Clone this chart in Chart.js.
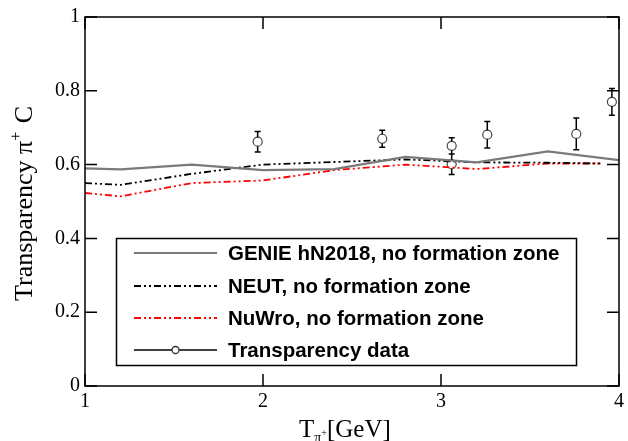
<!DOCTYPE html>
<html>
<head>
<meta charset="utf-8">
<script src="https://cdn.jsdelivr.net/npm/chart.js@4.4.1/dist/chart.umd.min.js"></script>
<style>
html, body { margin: 0; padding: 0; background: #fff; }
</style>
</head>
<body>
<canvas id="myChart" width="628" height="441"></canvas>
<script>
// model curves
const genieX = [1, 1.2, 1.6, 2.0, 2.4, 2.8, 3.2, 3.6, 4.0];
const genieY = [0.590, 0.587, 0.600, 0.585, 0.588, 0.621, 0.606, 0.636, 0.612];
const modelX = [1, 1.2, 1.6, 2.0, 2.4, 2.8, 3.2, 3.6, 3.9];
const neutY = [0.550, 0.545, 0.575, 0.600, 0.607, 0.614, 0.606, 0.605, 0.603];
const nuwroY = [0.523, 0.514, 0.550, 0.557, 0.585, 0.600, 0.588, 0.603, 0.603];

// measured transparency
const dataX = [1.97, 2.67, 3.06, 3.06, 3.26, 3.76, 3.96];
const dataY = [0.662, 0.670, 0.651, 0.601, 0.681, 0.683, 0.770];
const dataErr = [0.028, 0.023, 0.022, 0.028, 0.036, 0.043, 0.036];

const xTicks = [1, 2, 3, 4];
const yTicks = [0, 0.2, 0.4, 0.6, 0.8, 1];
const labels = [
  'GENIE hN2018, no formation zone',
  'NEUT, no formation zone',
  'NuWro, no formation zone',
  'Transparency data'
];

const dashDotDot = [7, 3, 2, 3, 2, 3];
const pts = (xs, ys) => xs.map((x, i) => ({x: x, y: ys[i]}));

// frame with inward ticks
const framePlugin = {
  id: 'frame',
  afterDraw(chart) {
    const c = chart.ctx, a = chart.chartArea;
    const sx = chart.scales.x, sy = chart.scales.y;
    c.save();
    c.strokeStyle = '#000';
    c.lineWidth = 1.5;
    c.strokeRect(a.left, a.top, a.right - a.left, a.bottom - a.top);
    c.beginPath();
    xTicks.forEach(v => {
      const px = sx.getPixelForValue(v);
      c.moveTo(px, a.bottom); c.lineTo(px, a.bottom - 12);
      c.moveTo(px, a.top); c.lineTo(px, a.top + 12);
    });
    yTicks.forEach(v => {
      const py = sy.getPixelForValue(v);
      c.moveTo(a.left, py); c.lineTo(a.left + 12, py);
      c.moveTo(a.right, py); c.lineTo(a.right - 12, py);
    });
    c.stroke();
    c.restore();
  }
};

// error bars on the data set
const errPlugin = {
  id: 'errbars',
  afterDatasetsDraw(chart) {
    const c = chart.ctx;
    const sx = chart.scales.x, sy = chart.scales.y;
    c.save();
    c.strokeStyle = '#000';
    c.lineWidth = 1.5;
    c.beginPath();
    dataX.forEach((x, i) => {
      const px = sx.getPixelForValue(x);
      const top = sy.getPixelForValue(dataY[i] + dataErr[i]);
      const bot = sy.getPixelForValue(dataY[i] - dataErr[i]);
      const yc = sy.getPixelForValue(dataY[i]);
      c.moveTo(px, top); c.lineTo(px, yc - 4.5);
      c.moveTo(px, yc + 4.5); c.lineTo(px, bot);
      c.moveTo(px - 3, top); c.lineTo(px + 3, top);
      c.moveTo(px - 3, bot); c.lineTo(px + 3, bot);
    });
    c.stroke();
    c.restore();
  }
};

// legend box inside the plot
const legendPlugin = {
  id: 'boxLegend',
  afterDraw(chart) {
    const c = chart.ctx;
    c.save();
    c.fillStyle = '#fff';
    c.fillRect(116.5, 238.5, 460, 127);
    c.strokeStyle = '#000';
    c.lineWidth = 1.5;
    c.strokeRect(116.5, 238.5, 460, 127);
    const rows = [253, 286, 318, 350];
    chart.data.datasets.forEach((ds, i) => {
      const y = rows[i];
      c.save();
      c.strokeStyle = i === 3 ? '#000' : ds.borderColor;
      c.lineWidth = i === 3 ? 1.3 : ds.borderWidth;
      c.setLineDash(ds.borderDash || []);
      c.beginPath();
      c.moveTo(134, y); c.lineTo(217, y);
      c.stroke();
      if (i === 3) {
        c.setLineDash([]);
        c.fillStyle = '#fff';
        c.strokeStyle = '#333';
        c.beginPath();
        c.arc(175.5, y, 3.5, 0, Math.PI * 2);
        c.fill(); c.stroke();
      }
      c.restore();
      c.fillStyle = '#000';
      c.font = 'bold 20.5px "Liberation Sans", Arial, sans-serif';
      c.textBaseline = 'middle';
      c.fillText(labels[i], 228, y + 1);
    });
    c.restore();
  }
};

// axis titles with sub/superscripts
const titlePlugin = {
  id: 'titles',
  afterDraw(chart) {
    const c = chart.ctx;
    c.save();
    c.fillStyle = '#000';
    c.textBaseline = 'alphabetic';
    // x title
    let x = 299, base = 437;
    c.font = '25px "Liberation Serif", serif';
    c.fillText('T', x, base); x += c.measureText('T').width;
    c.font = '14px "Liberation Serif", serif';
    c.fillText('\u03c0', x, base + 5); x += c.measureText('\u03c0').width;
    c.font = '10px "Liberation Serif", serif';
    c.fillText('+', x, base - 1); x += c.measureText('+').width;
    c.font = '25px "Liberation Serif", serif';
    c.fillText('[GeV]', x, base);
    // y title
    c.translate(32, 301);
    c.rotate(-Math.PI / 2);
    x = 0;
    c.font = '26px "Liberation Serif", serif';
    c.fillText('Transparency \u03c0', x, 0); x += c.measureText('Transparency \u03c0').width;
    c.font = '16px "Liberation Serif", serif';
    c.fillText('+', x, -11); x += c.measureText('+').width + 2;
    c.font = '26px "Liberation Serif", serif';
    c.fillText(' C', x, 0);
    c.restore();
  }
};

const ctx = document.getElementById('myChart').getContext('2d');
const chart = new Chart(ctx, {
  type: 'scatter',
  data: {
    datasets: [
      {
        label: labels[0],
        data: pts(genieX, genieY),
        showLine: true,
        borderColor: '#7a7a7a',
        borderWidth: 2.2,
        pointRadius: 0,
        tension: 0
      },
      {
        label: labels[1],
        data: pts(modelX, neutY),
        showLine: true,
        borderColor: '#000',
        borderWidth: 1.8,
        borderDash: dashDotDot,
        pointRadius: 0
      },
      {
        label: labels[2],
        data: pts(modelX, nuwroY),
        showLine: true,
        borderColor: '#ff0000',
        borderWidth: 1.8,
        borderDash: dashDotDot,
        pointRadius: 0
      },
      {
        label: labels[3],
        data: pts(dataX, dataY),
        showLine: false,
        borderColor: '#444',
        backgroundColor: 'rgba(0,0,0,0)',
        borderWidth: 1.2,
        pointRadius: 4.5,
        pointStyle: 'circle'
      }
    ]
  },
  options: {
    responsive: false,
    animation: false,
    layout: { padding: { top: 17, right: 7, left: 0, bottom: 0 } },
    plugins: {
      legend: { display: false },
      tooltip: { enabled: false }
    },
    scales: {
      x: {
        type: 'linear',
        min: 1, max: 4,
        grid: { display: false, drawTicks: false },
        border: { display: false },
        afterBuildTicks: s => { s.ticks = xTicks.map(v => ({value: v})); },
        afterFit: s => { s.height = 55; },
        ticks: {
          color: '#000',
          padding: 4,
          font: { family: '"Liberation Serif", serif', size: 20 },
          callback: v => String(v)
        }
      },
      y: {
        type: 'linear',
        min: 0, max: 1,
        grid: { display: false, drawTicks: false },
        border: { display: false },
        afterBuildTicks: s => { s.ticks = yTicks.map(v => ({value: v})); },
        afterFit: s => { s.width = 85; },
        ticks: {
          color: '#000',
          padding: 5,
          font: { family: '"Liberation Serif", serif', size: 20 },
          callback: v => String(Number(v.toFixed(1)))
        }
      }
    }
  },
  plugins: [framePlugin, errPlugin, legendPlugin, titlePlugin]
});
</script>
</body>
</html>
